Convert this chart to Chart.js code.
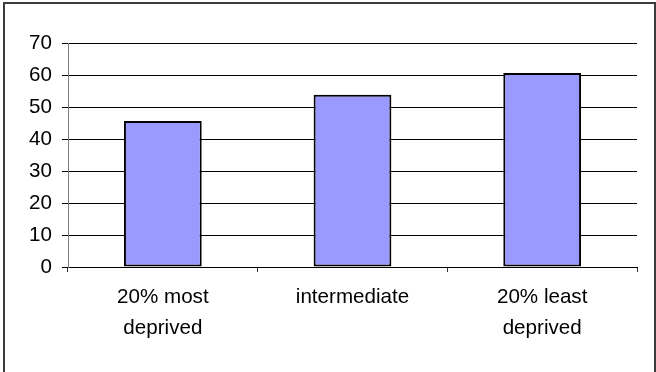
<!DOCTYPE html>
<html>
<head>
<meta charset="utf-8">
<script src="https://cdn.jsdelivr.net/npm/chart.js@4/dist/chart.umd.min.js"></script>
<style>
body{margin:0;background:#fff;}
#wrap{position:relative;width:656px;height:372px;overflow:hidden;}
#frame{position:absolute;left:3px;top:2px;width:649px;height:390px;border:2px solid #3c3c3c;pointer-events:none;}
canvas{position:absolute;left:0;top:0;}
</style>
</head>
<body>
<div id="wrap">
<canvas id="chart" width="656" height="372"></canvas>
<div id="frame"></div>
</div>
<script>
let categories=[["20% most","deprived"],"intermediate",["20% least","deprived"]]
let values=[45.6,53.8,60.6]
let yTicks=[0,10,20,30,40,50,60,70]

let ctx=document.getElementById("chart")
let chart=new Chart(ctx,{
type:"bar",
data:{
labels:categories,
datasets:[{
data:values,
backgroundColor:"#9999ff",
borderColor:"#000000",
borderWidth:2,
borderSkipped:false,
barPercentage:0.41,
categoryPercentage:1
}]
},
options:{
responsive:false,
animation:false,
layout:{padding:{left:0,right:19,top:43,bottom:0}},
plugins:{legend:{display:false},tooltip:{enabled:false}},
scales:{
x:{
grid:{display:true,drawOnChartArea:false,drawTicks:true,tickLength:5,color:"#333333",offset:true},
border:{color:"#000000",width:1},
ticks:{color:"#000000",padding:10,maxRotation:0,autoSkip:false,font:{family:"Liberation Sans, Arial",size:20.6,lineHeight:"31px"}},
afterFit:function(scale){scale.height=105}
},
y:{
min:yTicks[0],
max:yTicks[yTicks.length-1],
afterBuildTicks:function(scale){scale.ticks=yTicks.map(v=>({value:v}))},
grid:{color:"#000000",tickLength:6,lineWidth:1},
border:{color:"#808080",width:1},
ticks:{color:"#000000",padding:10,font:{family:"Liberation Sans, Arial",size:20.6}},
afterFit:function(scale){scale.width=68}
}
}
}
})
</script>
</body>
</html>
